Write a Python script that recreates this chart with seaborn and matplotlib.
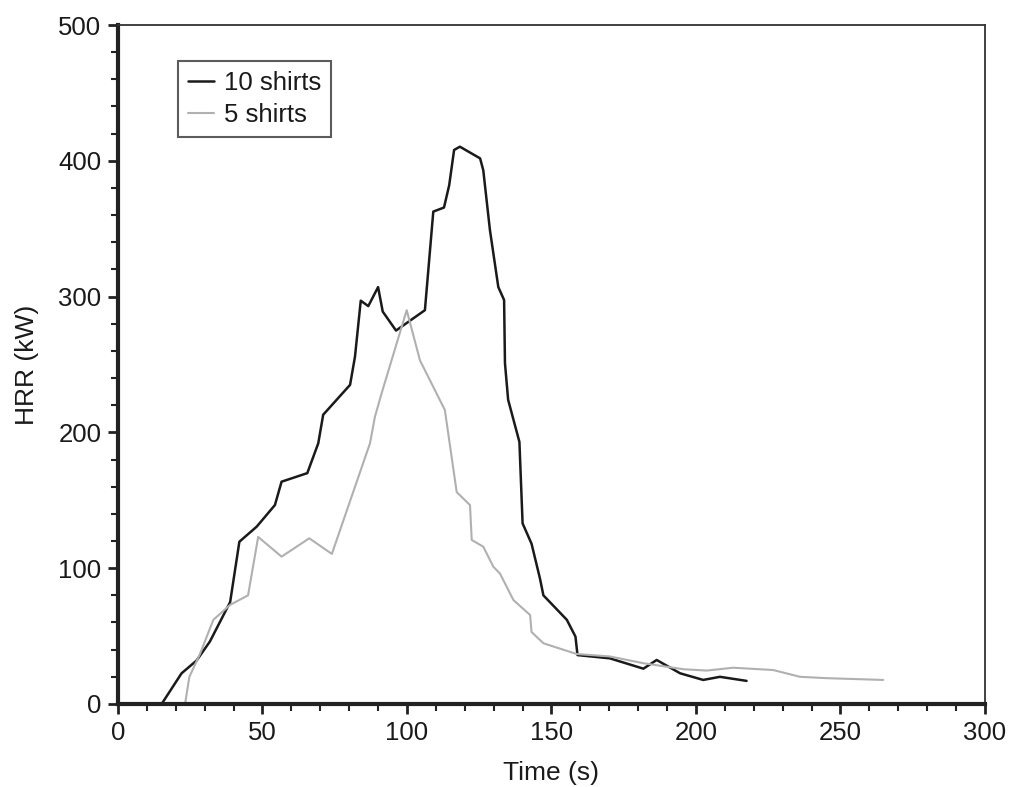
import numpy as np
import matplotlib.pyplot as plt
import pandas as pd
import seaborn as sns
from matplotlib.ticker import MultipleLocator

# 10 shirts test
time_10 = [15.1, 22, 27.2, 31.8, 38.8, 42, 48, 54.3, 56.6, 65.5, 69.3, 71, 80.3, 82,
           84, 86.6, 90, 91.6, 96.2, 106.2, 109.1, 112.8, 114.6, 116.3, 118.3, 125.3,
           126.4, 128.7, 131.6, 133.6, 133.9, 135, 138.9, 140, 143.1, 146, 147.2,
           155.3, 158.3, 159, 170.2, 181.8, 186.4, 194.5, 202.5, 208.3, 217.5]
hrr_10 = [0, 22.6, 32, 46, 75, 119.5, 130.6, 146.5, 163.7, 170, 192, 213, 235, 255.7,
          297, 293, 307, 289, 275, 290, 362.6, 365.6, 382, 408, 410.4, 401.8,
          393, 349, 307, 297.5, 251, 224, 193, 133, 118, 92.5, 80,
          62, 49.6, 36, 33.6, 26, 32.4, 22.6, 17.7, 20, 17]

# 5 shirts test
time_5 = [23.2, 24.7, 28.4, 33, 38.8, 45, 48.5, 56.6, 66.2, 74, 87.2, 88.9, 91.2,
          99.9, 104.5, 113.1, 117.2, 121.8, 122.4, 126.4, 129.9, 132.2, 136.8, 142.6,
          143.1, 147.2, 158.7, 170.2, 181.8, 195.6, 203.7, 212.9, 226.7, 236, 245.2, 264.8]
hrr_5 = [0, 20, 37, 62, 73, 80, 123, 108.5, 122, 110.5, 192, 211.5, 228.7,
         290, 253, 216.5, 156, 146.5, 120.8, 115.8, 101, 96, 76.6, 65.5,
         53, 44.7, 36.8, 35, 30, 25.6, 24.6, 26.7, 25, 20, 19, 17.7]

df = pd.concat([
    pd.DataFrame({"Time (s)": time_10, "HRR (kW)": hrr_10, "test": "10 shirts"}),
    pd.DataFrame({"Time (s)": time_5, "HRR (kW)": hrr_5, "test": "5 shirts"}),
])

sns.set_style("ticks")
plt.rcParams['font.family'] = ['Liberation Sans', 'DejaVu Sans']
plt.rcParams['text.color'] = '#1a1a1a'

fig = plt.figure(figsize=(10.12, 7.87), dpi=100)
ax = fig.add_axes([0.1166, 0.1055, 0.8567, 0.8627])

sns.lineplot(data=df, x="Time (s)", y="HRR (kW)", hue="test", sort=False,
             palette={"10 shirts": "#1a1a1a", "5 shirts": "#b0b0b0"},
             estimator=None, linewidth=1.8, ax=ax)
ax.lines[1].set_linewidth(1.5)

ax.set_xlim(0, 300)
ax.set_ylim(0, 500)
ax.xaxis.set_major_locator(MultipleLocator(50))
ax.xaxis.set_minor_locator(MultipleLocator(10))
ax.yaxis.set_major_locator(MultipleLocator(100))
ax.yaxis.set_minor_locator(MultipleLocator(20))
ax.tick_params(axis='both', which='major', labelsize=18.5, length=7, width=2,
               direction='out', color='#222222', labelcolor='#1a1a1a', pad=5)
ax.tick_params(axis='both', which='minor', length=5, width=1.5, direction='out', color='#222222')
ax.set_xlabel("Time (s)", fontsize=19, labelpad=12, color='#1a1a1a')
ax.set_ylabel("HRR (kW)", fontsize=19, labelpad=14, color='#1a1a1a')

for side in ['left', 'bottom']:
    ax.spines[side].set_linewidth(3)
    ax.spines[side].set_color('#222222')
for side in ['top', 'right']:
    ax.spines[side].set_linewidth(1.3)
    ax.spines[side].set_color('#333333')

leg = ax.legend(loc='upper left', bbox_to_anchor=(0.054, 0.966), fontsize=18.5,
                frameon=True, fancybox=False, edgecolor='#333333',
                handlelength=1.0, handletextpad=0.4, borderpad=0.4, labelspacing=0.3)
leg.get_frame().set_linewidth(1.5)
leg.get_lines()[1].set_linewidth(1.5)

fig.savefig("out.png", dpi=100)
